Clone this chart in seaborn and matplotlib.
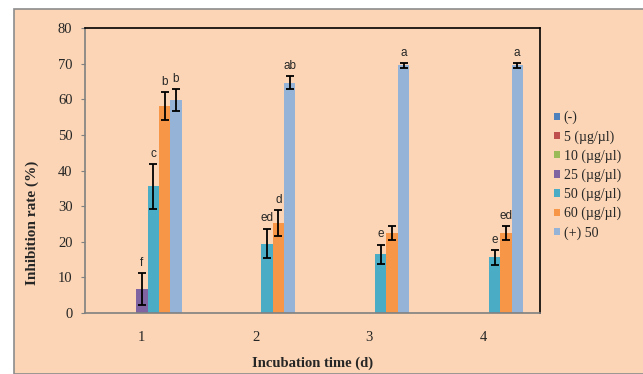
import numpy as np
import pandas as pd
import matplotlib
matplotlib.use("Agg")
import matplotlib.pyplot as plt
import seaborn as sns
from matplotlib.patches import Rectangle

days = ["1", "2", "3", "4"]
treatments = ["(-)", "5 (µg/µl)", "10 (µg/µl)", "25 (µg/µl)",
              "50 (µg/µl)", "60 (µg/µl)", "(+) 50"]
colors = ["#4F81BD", "#C0504D", "#9BBB59", "#8064A2",
          "#4BACC6", "#F79646", "#95B3D7"]

# inhibition rate per treatment (rows) and day (columns)
values = [
    [0, 0, 0, 0],
    [0, 0, 0, 0],
    [0, 0, 0, 0],
    [6.8, 0, 0, 0],
    [35.6, 19.5, 16.5, 15.6],
    [58.1, 25.3, 22.5, 22.5],
    [59.8, 64.7, 69.5, 69.5],
]
errors = [
    [0, 0, 0, 0],
    [0, 0, 0, 0],
    [0, 0, 0, 0],
    [4.5, 0, 0, 0],
    [6.3, 4.2, 2.7, 2.0],
    [3.9, 3.7, 2.0, 2.0],
    [3.1, 1.9, 0.6, 0.6],
]
letters = [
    ["", "", "", ""],
    ["", "", "", ""],
    ["", "", "", ""],
    ["f", "", "", ""],
    ["c", "ed", "e", "e"],
    ["b", "d", "", "ed"],
    ["b", "ab", "a", "a"],
]

rows = []
for t, vals in zip(treatments, values):
    for d, v in zip(days, vals):
        rows.append({"day": d, "treatment": t, "rate": v})
df = pd.DataFrame(rows)

peach = "#FBD5B5"
sns.set_style("ticks")
plt.rcParams["font.family"] = ["Liberation Serif", "DejaVu Serif"]

fig = plt.figure(figsize=(6.43, 3.74), dpi=100)
fig.patches.append(Rectangle((14 / 643, 0), 1, (374 - 9) / 374,
                             transform=fig.transFigure, facecolor=peach,
                             edgecolor="#8c8c8c", linewidth=1.2, zorder=-10))
ax = fig.add_axes([85 / 643, 61 / 374, 455 / 643, 285 / 374])
ax.set_facecolor(peach)

sns.barplot(data=df, x="day", y="rate", hue="treatment", hue_order=treatments,
            palette=colors, width=0.7, errorbar=None, saturation=1,
            linewidth=0, ax=ax, legend=True)

bar_groups = list(ax.containers)
for i, cont in enumerate(bar_groups):
    for j, p in enumerate(cont.patches):
        xc = p.get_x() + p.get_width() / 2
        v = values[i][j]
        e = errors[i][j]
        if e > 0:
            ax.errorbar(xc, v, yerr=e, color="black", capsize=3,
                        elinewidth=1.3, capthick=1.3, zorder=5)
        if letters[i][j]:
            ax.annotate(letters[i][j], (xc, v + e), xytext=(0, 3),
                        textcoords="offset points", ha="center", va="bottom",
                        fontsize=8.5, family=["Liberation Sans", "DejaVu Sans"])

ax.set_ylim(0, 80)
ax.set_yticks(range(0, 81, 10))
ax.set_xlim(-0.5, 3.5)
ax.tick_params(axis="y", length=3, color="#808080", labelsize=10.5, pad=6)
ax.tick_params(axis="x", length=0, labelsize=10.5, pad=13)
for s in ["left", "bottom"]:
    ax.spines[s].set_color("#808080")
    ax.spines[s].set_linewidth(1.2)
for s in ["top", "right"]:
    ax.spines[s].set_visible(True)
    ax.spines[s].set_color("black")
    ax.spines[s].set_linewidth(1.2)

ax.set_xlabel("Incubation time (d)", fontsize=10.5, fontweight="bold", labelpad=9)
ax.set_ylabel("Inhibition rate (%)", fontsize=11, fontweight="bold")
ax.yaxis.set_label_coords(-0.1, 0.315)

handles, labels = ax.get_legend_handles_labels()
ax.legend(handles, labels, loc="upper left", bbox_to_anchor=(554 / 643, 1 - 111 / 374),
          bbox_transform=fig.transFigure, frameon=False, fontsize=10,
          handlelength=0.45, handleheight=0.45, handletextpad=0.25,
          labelspacing=0.41, borderaxespad=0, borderpad=0)

fig.savefig("out.png", dpi=100, facecolor="white")
